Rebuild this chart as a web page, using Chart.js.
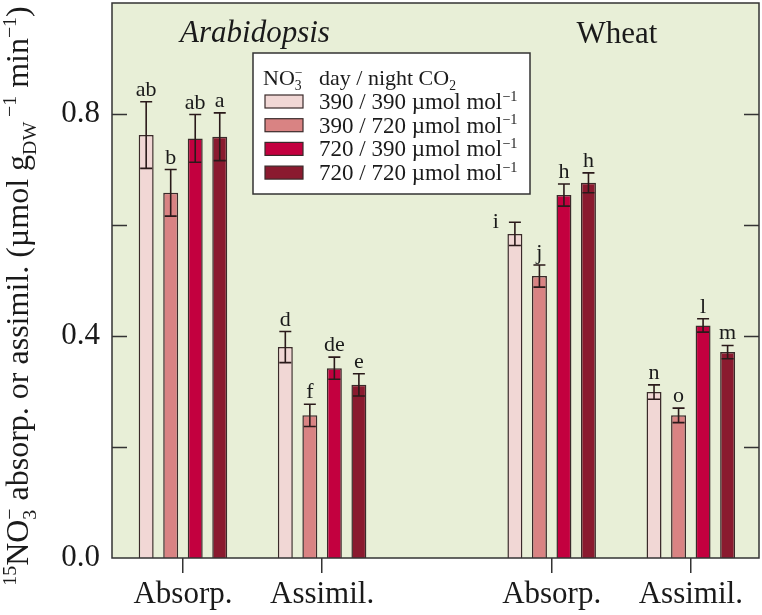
<!DOCTYPE html>
<html>
<head>
<meta charset="utf-8">
<script src="https://cdn.jsdelivr.net/npm/chart.js@4"></script>
<style>
  body { margin: 0; background: #fff; }
  canvas { display: block; }
</style>
</head>
<body>
<canvas id="chart" width="762" height="615"></canvas>
<script>
// groups: Arabidopsis absorp, Arabidopsis assimil, Wheat absorp, Wheat assimil
const groupPos = [0, 1, 2.65, 3.65];
const groupLabels = ['Absorp.', 'Assimil.', 'Absorp.', 'Assimil.'];
const yTicks = [0, 0.2, 0.4, 0.6, 0.8, 1.0];
const yLabelled = [0, 0.4, 0.8];

const seriesNames = [
    '390 / 390 µmol mol',
    '390 / 720 µmol mol',
    '720 / 390 µmol mol',
    '720 / 720 µmol mol'
];
const vals390_390 = [0.762, 0.380, 0.584, 0.299];
const vals390_720 = [0.658, 0.257, 0.508, 0.257];
const vals720_390 = [0.756, 0.342, 0.654, 0.419];
const vals720_720 = [0.759, 0.312, 0.676, 0.371];

const err390_390 = [0.060, 0.028, 0.021, 0.013];
const err390_720 = [0.042, 0.020, 0.020, 0.013];
const err720_390 = [0.043, 0.020, 0.020, 0.012];
const err720_720 = [0.043, 0.020, 0.018, 0.012];

const let390_390 = ['ab', 'd', 'i', 'n'];
const let390_720 = ['b', 'f', 'j', 'o'];
const let720_390 = ['ab', 'de', 'h', 'l'];
const let720_720 = ['a', 'e', 'h', 'm'];

const colors = ['#f1d7d5', '#d98383', '#c3003f', '#8a1a2f'];
const edge = '#3a2a2a';
const serif = '"Liberation Serif", "DejaVu Serif", serif';

const allVals = [vals390_390, vals390_720, vals720_390, vals720_720];
const allErr = [err390_390, err390_720, err720_390, err720_720];
const allLet = [let390_390, let390_720, let720_390, let720_720];

// rich text helper: parts {t, k: 'n'|'sup'|'sub', stack}
function richText(ctx, parts, x, y, size, draw) {
    let cx = x;
    parts.forEach(function (p) {
        const s = p.k === 'n' ? size : size * 0.62;
        ctx.font = s + 'px ' + serif;
        const dy = p.k === 'sup' ? -size * 0.36 : p.k === 'sub' ? size * 0.24 : 0;
        if (draw) ctx.fillText(p.t, cx, y + dy);
        if (!p.stack) cx += ctx.measureText(p.t).width;
    });
    return cx - x;
}

function noPad(scale) {
    scale.paddingTop = 0;
    scale.paddingBottom = 0;
    scale.paddingLeft = 0;
    scale.paddingRight = 0;
}

const decorations = {
    id: 'decorations',
    beforeDraw(chart) {
        const { ctx, chartArea: a } = chart;
        ctx.save();
        ctx.fillStyle = '#e8efd7';
        ctx.fillRect(a.left, a.top, a.right - a.left, a.bottom - a.top);
        ctx.restore();
    },
    afterDatasetsDraw(chart) {
        const { ctx, chartArea: a, scales } = chart;
        const y = scales.y;
        ctx.save();

        // error bars + letters
        chart.data.datasets.forEach(function (ds, di) {
            const meta = chart.getDatasetMeta(di);
            meta.data.forEach(function (bar, i) {
                const v = allVals[di][i], e = allErr[di][i];
                const yt = y.getPixelForValue(v + e);
                const yb = y.getPixelForValue(v - e);
                ctx.strokeStyle = '#2a1a1a';
                ctx.lineWidth = 1.6;
                ctx.beginPath();
                ctx.moveTo(bar.x, yt); ctx.lineTo(bar.x, yb);
                ctx.moveTo(bar.x - 6, yt); ctx.lineTo(bar.x + 6, yt);
                ctx.moveTo(bar.x - 6, yb); ctx.lineTo(bar.x + 6, yb);
                ctx.stroke();

                let dx = 0, dy = 0;
                if (di === 0 && i === 2) { dx = -19; dy = 12; }
                ctx.fillStyle = '#1a1a1a';
                ctx.font = '22px ' + serif;
                ctx.textAlign = 'center';
                ctx.textBaseline = 'alphabetic';
                ctx.fillText(allLet[di][i], bar.x + dx, yt - 6 + dy);
            });
        });

        // frame
        ctx.strokeStyle = '#333';
        ctx.lineWidth = 1.5;
        ctx.strokeRect(a.left, a.top, a.right - a.left, a.bottom - a.top);

        // inward ticks on left and right
        yTicks.forEach(function (t) {
            const py = Math.round(y.getPixelForValue(t)) + 0.5;
            if (t === 0 || t === 1) return;
            ctx.beginPath();
            ctx.moveTo(a.left, py); ctx.lineTo(a.left + 15, py);
            ctx.moveTo(a.right, py); ctx.lineTo(a.right - 15, py);
            ctx.stroke();
        });

        // panel titles
        ctx.fillStyle = '#1a1a1a';
        ctx.textAlign = 'center';
        ctx.font = 'italic 31px ' + serif;
        ctx.fillText('Arabidopsis', 255, 42);
        ctx.font = '31px ' + serif;
        ctx.fillText('Wheat', 617, 43);

        // legend
        ctx.fillStyle = '#fff';
        ctx.fillRect(253, 53, 277, 141);
        ctx.strokeStyle = '#333';
        ctx.lineWidth = 1.5;
        ctx.strokeRect(253, 53, 277, 141);
        ctx.fillStyle = '#1a1a1a';
        ctx.textAlign = 'left';
        richText(ctx, [
            { t: 'NO', k: 'n' }, { t: '3', k: 'sub', stack: true }, { t: '−', k: 'sup' }
        ], 263, 85, 22, true);
        richText(ctx, [
            { t: 'day / night CO', k: 'n' }, { t: '2', k: 'sub' }
        ], 319, 85, 22, true);
        seriesNames.forEach(function (name, i) {
            const base = 109 + i * 23.7;
            ctx.fillStyle = colors[i];
            ctx.fillRect(265, base - 14, 38, 13);
            ctx.strokeStyle = edge;
            ctx.lineWidth = 1.2;
            ctx.strokeRect(265, base - 14, 38, 13);
            ctx.fillStyle = '#1a1a1a';
            richText(ctx, [{ t: name, k: 'n' }, { t: '−1', k: 'sup' }], 319, base, 23, true);
        });

        // y axis title
        const yParts = [
            { t: '15', k: 'sup' }, { t: 'NO', k: 'n' }, { t: '3', k: 'sub', stack: true }, { t: '−', k: 'sup' },
            { t: ' absorp. or assimil. (µmol g', k: 'n' }, { t: 'DW', k: 'sub' }, { t: ' −1', k: 'sup' },
            { t: ' min', k: 'n' }, { t: '−1', k: 'sup' }, { t: ')', k: 'n' }
        ];
        const w = richText(ctx, yParts, 0, 0, 32, false);
        ctx.translate(28, 296 + w / 2);
        ctx.rotate(-Math.PI / 2);
        richText(ctx, yParts, 0, 0, 32, true);
        ctx.restore();
    }
};

new Chart(document.getElementById('chart'), {
    type: 'bar',
    data: {
        datasets: allVals.map(function (vals, di) {
            return {
                label: seriesNames[di],
                data: groupPos.map(function (x, i) { return { x: x, y: vals[i] }; }),
                backgroundColor: colors[di],
                borderColor: edge,
                borderWidth: 1.5,
                categoryPercentage: 0.705,
                barPercentage: 0.61
            };
        })
    },
    options: {
        responsive: false,
        devicePixelRatio: 1,
        animation: false,
        layout: { padding: { top: 3, right: 3, left: 0, bottom: 0 } },
        plugins: { legend: { display: false }, tooltip: { enabled: false } },
        scales: {
            x: {
                type: 'linear',
                min: -0.51,
                max: 4.14,
                offset: false,
                afterBuildTicks: function (scale) {
                    scale.ticks = groupPos.map(function (v) { return { value: v }; });
                },
                afterFit: function (scale) { scale.height = 57; noPad(scale); },
                border: { display: false },
                grid: { offset: false, drawOnChartArea: false, drawTicks: true, tickLength: 15, color: '#333', lineWidth: 1.5 },
                ticks: {
                    autoSkip: false,
                    maxRotation: 0,
                    padding: 3,
                    color: '#1a1a1a',
                    font: { family: serif, size: 31 },
                    callback: function (v, i) { return groupLabels[i]; }
                }
            },
            y: {
                min: 0,
                max: 1.0,
                afterBuildTicks: function (scale) {
                    scale.ticks = yLabelled.map(function (v) { return { value: v }; });
                },
                afterFit: function (scale) { scale.width = 112; noPad(scale); },
                border: { display: false },
                grid: { display: false, drawTicks: false },
                ticks: {
                    padding: 12,
                    color: '#1a1a1a',
                    font: { family: serif, size: 31 },
                    callback: function (v) { return v.toFixed(1); }
                }
            }
        }
    },
    plugins: [decorations]
});
</script>
</body>
</html>
